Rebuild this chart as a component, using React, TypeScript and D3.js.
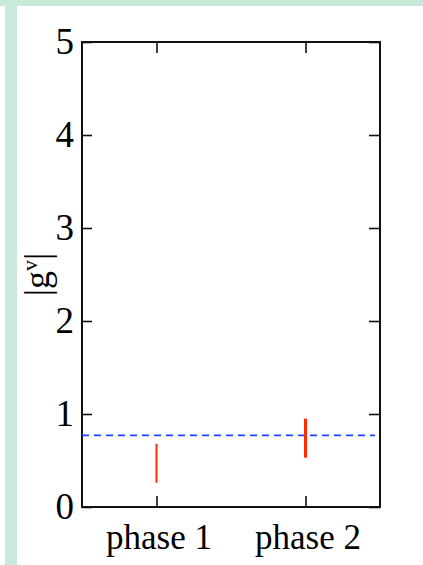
import React, { useEffect, useRef } from 'react';
import * as d3 from 'd3';

// chart values
const phases: string[] = ['phase 1', 'phase 2'];
const lowValues: number[] = [0.26, 0.53];
const highValues: number[] = [0.68, 0.95];
const referenceLevel: number[] = [0.77];
const yTicks: number[] = [0, 1, 2, 3, 4, 5];

const W = 423;
const H = 565;
const FONT = '"Liberation Serif", "Times New Roman", serif';

const App = () => {
    const svgRef = useRef<SVGSVGElement>(null);

    useEffect(() => {
        const svg = d3.select(svgRef.current);
        svg.selectAll('*').remove();

        const left = 82, right = 380, top = 42, bottom = 507;

        // page background bands
        svg.append('rect').attr('width', W).attr('height', H).attr('fill', '#fff');
        svg.append('rect').attr('x', 0).attr('y', 0).attr('width', W).attr('height', 6).attr('fill', '#c9eadb');
        svg.append('rect').attr('x', 5).attr('y', 0).attr('width', 12).attr('height', H).attr('fill', '#c9eadb');

        const x = d3.scalePoint<string>().domain(phases).range([left, right]).padding(0.5);
        const y = d3.scaleLinear().domain([0, 5]).range([bottom, top]);

        const styleAxis = (size: number) => (g: any) => {
            g.select('.domain').remove();
            g.selectAll('line').attr('stroke', '#111').attr('stroke-width', 1.6);
            g.selectAll('text')
                .attr('fill', '#000')
                .style('font-family', FONT)
                .style('font-size', `${size}px`);
        };

        // left axis with labels
        svg.append('g')
            .attr('transform', `translate(${left},0)`)
            .call(d3.axisLeft(y).tickValues(yTicks).tickSize(-10).tickPadding(8).tickFormat(d3.format('d')))
            .call(styleAxis(37));

        // right axis, ticks only
        svg.append('g')
            .attr('transform', `translate(${right},0)`)
            .call(d3.axisRight(y).tickValues(yTicks).tickSize(-11).tickFormat(() => ''))
            .call(styleAxis(37));

        // bottom axis with labels
        svg.append('g')
            .attr('transform', `translate(2,${bottom})`)
            .call(d3.axisBottom(x).tickSize(0).tickPadding(17))
            .call(styleAxis(35));
        svg.append('g')
            .attr('transform', `translate(0,${bottom})`)
            .call(d3.axisBottom(x).tickSize(-11).tickFormat(() => ''))
            .call(styleAxis(35));

        // top axis, ticks only
        svg.append('g')
            .attr('transform', `translate(0,${top})`)
            .call(d3.axisTop(x).tickSize(-11).tickFormat(() => ''))
            .call(styleAxis(35));

        // frame
        svg.append('rect')
            .attr('x', left).attr('y', top)
            .attr('width', right - left).attr('height', bottom - top)
            .attr('fill', 'none').attr('stroke', '#111').attr('stroke-width', 2);

        // reference dashed line
        svg.append('line')
            .attr('x1', left).attr('x2', right - 5)
            .attr('y1', y(referenceLevel[0])).attr('y2', y(referenceLevel[0]))
            .attr('stroke', '#1f45ff').attr('stroke-width', 1.8)
            .attr('stroke-dasharray', '7,5');

        // ranges
        svg.selectAll('.range')
            .data(phases)
            .join('line')
            .attr('class', 'range')
            .attr('x1', d => x(d)!)
            .attr('x2', d => x(d)!)
            .attr('y1', (d, i) => y(lowValues[i]))
            .attr('y2', (d, i) => y(highValues[i]))
            .attr('stroke', '#ff2a00')
            .attr('stroke-width', (d, i) => (i === 0 ? 2 : 3));

        // y label |g^v|
        const label = svg.append('text')
            .attr('transform', `translate(49,${(top + bottom) / 2}) rotate(-90)`)
            .attr('text-anchor', 'middle')
            .style('font-family', FONT)
            .style('font-size', '36px')
            .attr('fill', '#000');
        label.append('tspan').text('|g');
        label.append('tspan').attr('dy', -12).style('font-size', '22px').text('v');
        label.append('tspan').attr('dy', 12).text('|');
    }, []);

    return (
        <svg
            ref={svgRef}
            width={W}
            height={H}
            style={{ position: 'absolute', left: 0, top: 0, display: 'block' }}
        ></svg>
    );
};

export default App;
